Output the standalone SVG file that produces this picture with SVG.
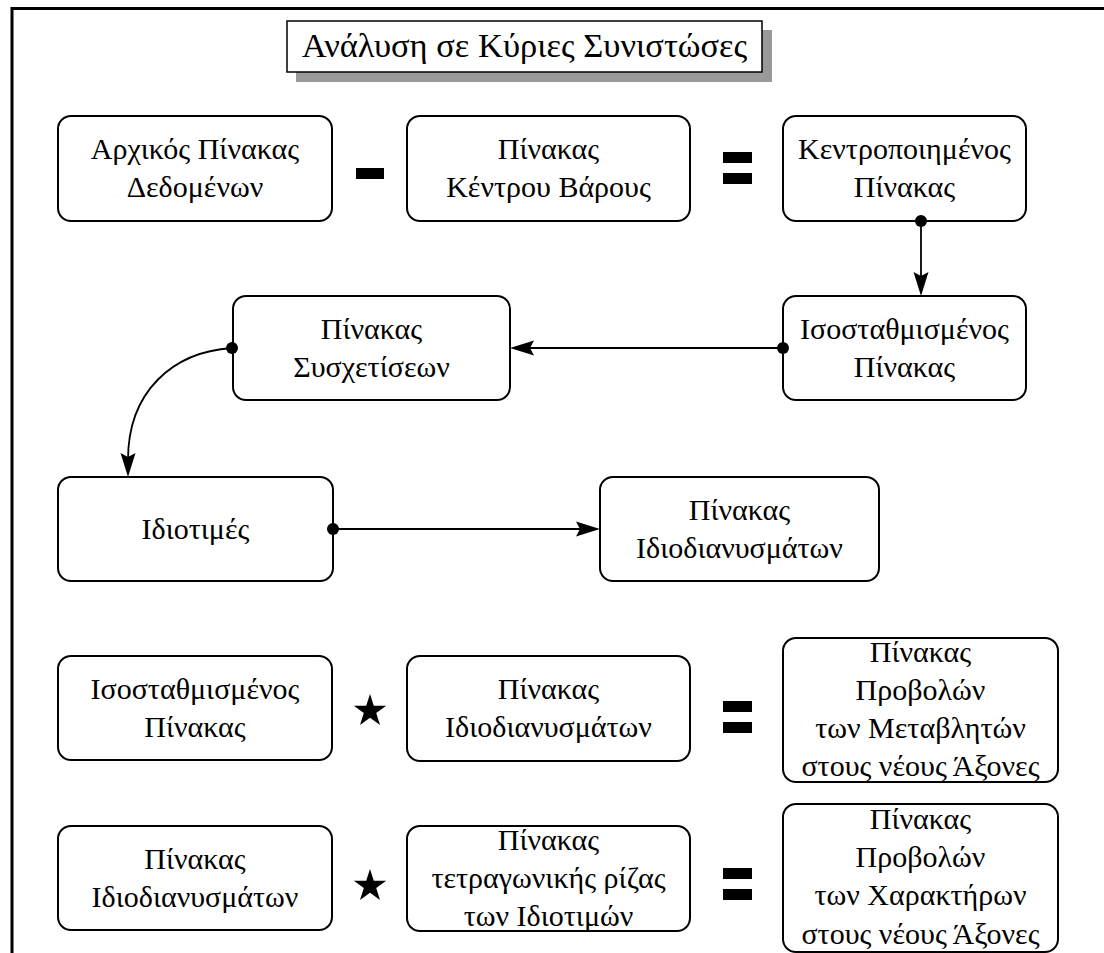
<svg xmlns="http://www.w3.org/2000/svg" width="1104" height="953" viewBox="0 0 1104 953">
<style>
.box{fill:#fff;stroke:#000;stroke-width:2}
.t{font-family:"Liberation Serif","Times New Roman",serif;font-size:30px;fill:#000;text-anchor:middle}
.title{font-family:"Liberation Serif","Times New Roman",serif;font-size:34.5px;fill:#000;text-anchor:middle}
.c{fill:none;stroke:#000;stroke-width:1.8}
.ah,.dt{fill:#000}
</style>
<defs>
<path id="head" d="M0,0 L-24,-7.5 L-20,0 L-24,7.5 z"/>
</defs>
<rect width="1104" height="953" fill="#fff"/>
<path d="M12,953 V8.5 H1104" fill="none" stroke="#000" stroke-width="3"/>
<g id="title">
<rect x="296" y="30" width="476" height="52" fill="#999"/>
<rect x="287" y="21" width="475" height="51" fill="#fff" stroke="#000" stroke-width="1.5"/>
<text class="title" x="524.5" y="57">Ανάλυση σε Κύριες Συνιστώσες</text>
</g>
<g id="boxA"><rect class="box" x="58" y="116" width="274" height="105" rx="13"/>
<text class="t" x="195" y="159">Αρχικός Πίνακας</text><text class="t" x="195" y="197">Δεδομένων</text></g>
<g id="minus"><rect x="356" y="168" width="28" height="11" fill="#000"/></g>
<g id="boxB"><rect class="box" x="407" y="116" width="283" height="105" rx="13"/>
<text class="t" x="548.5" y="159">Πίνακας</text><text class="t" x="548.5" y="197">Κέντρου Βάρους</text></g>
<g id="equals1"><rect x="723" y="152" width="29" height="11" fill="#000"/><rect x="723" y="173" width="29" height="11" fill="#000"/></g>
<g id="boxC"><rect class="box" x="783" y="116" width="243" height="105" rx="13"/>
<text class="t" x="904.5" y="159">Κεντροποιημένος</text><text class="t" x="904.5" y="197">Πίνακας</text></g>
<g id="boxD"><rect class="box" x="233" y="296" width="277" height="104" rx="13"/>
<text class="t" x="371.5" y="339">Πίνακας</text><text class="t" x="371.5" y="377">Συσχετίσεων</text></g>
<g id="boxE"><rect class="box" x="783" y="296" width="243" height="104" rx="13"/>
<text class="t" x="904.5" y="339">Ισοσταθμισμένος</text><text class="t" x="904.5" y="377">Πίνακας</text></g>
<g id="boxF"><rect class="box" x="58" y="477" width="275" height="104" rx="13"/>
<text class="t" x="195.5" y="539">Ιδιοτιμές</text></g>
<g id="boxG"><rect class="box" x="600" y="477" width="279" height="104" rx="13"/>
<text class="t" x="739.5" y="520">Πίνακας</text><text class="t" x="739.5" y="558">Ιδιοδιανυσμάτων</text></g>
<g id="boxH"><rect class="box" x="58" y="656" width="274" height="104" rx="13"/>
<text class="t" x="195" y="699">Ισοσταθμισμένος</text><text class="t" x="195" y="737">Πίνακας</text></g>
<g id="star1"><polygon points="370,694 373.8,705.8 386.2,705.8 376.2,713.1 380,725 370,717.7 360,725 363.8,713.1 353.8,705.8 366.2,705.8" fill="#000"/></g>
<g id="boxI"><rect class="box" x="407" y="656" width="283" height="105" rx="13"/>
<text class="t" x="548.5" y="699">Πίνακας</text><text class="t" x="548.5" y="737">Ιδιοδιανυσμάτων</text></g>
<g id="equals2"><rect x="723" y="701" width="29" height="11" fill="#000"/><rect x="723" y="722" width="29" height="11" fill="#000"/></g>
<g id="boxJ"><rect class="box" x="783" y="638" width="275" height="144" rx="13"/>
<text class="t" x="920.5" y="662">Πίνακας</text><text class="t" x="920.5" y="700">Προβολών</text><text class="t" x="920.5" y="738">των Μεταβλητών</text><text class="t" x="920.5" y="776">στους νέους Άξονες</text></g>
<g id="boxK"><rect class="box" x="58" y="826" width="274" height="104" rx="13"/>
<text class="t" x="195" y="869">Πίνακας</text><text class="t" x="195" y="907">Ιδιοδιανυσμάτων</text></g>
<g id="star2"><polygon points="370,869 373.8,880.8 386.2,880.8 376.2,888.1 380,900 370,892.7 360,900 363.8,888.1 353.8,880.8 366.2,880.8" fill="#000"/></g>
<g id="boxL"><rect class="box" x="407" y="826" width="283" height="105" rx="13"/>
<text class="t" x="548.5" y="850">Πίνακας</text><text class="t" x="548.5" y="888">τετραγωνικής ρίζας</text><text class="t" x="548.5" y="926">των Ιδιοτιμών</text></g>
<g id="equals3"><rect x="723" y="868" width="29" height="11" fill="#000"/><rect x="723" y="889" width="29" height="11" fill="#000"/></g>
<g id="boxM"><rect class="box" x="783" y="804" width="275" height="148" rx="13"/>
<text class="t" x="920.5" y="829">Πίνακας</text><text class="t" x="920.5" y="867">Προβολών</text><text class="t" x="920.5" y="905">των Χαρακτήρων</text><text class="t" x="920.5" y="944">στους νέους Άξονες</text></g>
<g id="connectors">
<path class="c" d="M921,221 V278"/>
<circle class="dt" cx="921" cy="221" r="6"/>
<use href="#head" class="ah" transform="translate(921,296) rotate(90)"/>
<path class="c" d="M783,348 H528"/>
<circle class="dt" cx="783" cy="348" r="6"/>
<use href="#head" class="ah" transform="translate(510,348) rotate(180)"/>
<path class="c" d="M232,348 C172,352 128,392 128,460"/>
<circle class="dt" cx="232" cy="348" r="6"/>
<use href="#head" class="ah" transform="translate(128,477) rotate(90)"/>
<path class="c" d="M333,529 H582"/>
<circle class="dt" cx="333" cy="529" r="6"/>
<use href="#head" class="ah" transform="translate(600,529)"/>
</g>
</svg>
